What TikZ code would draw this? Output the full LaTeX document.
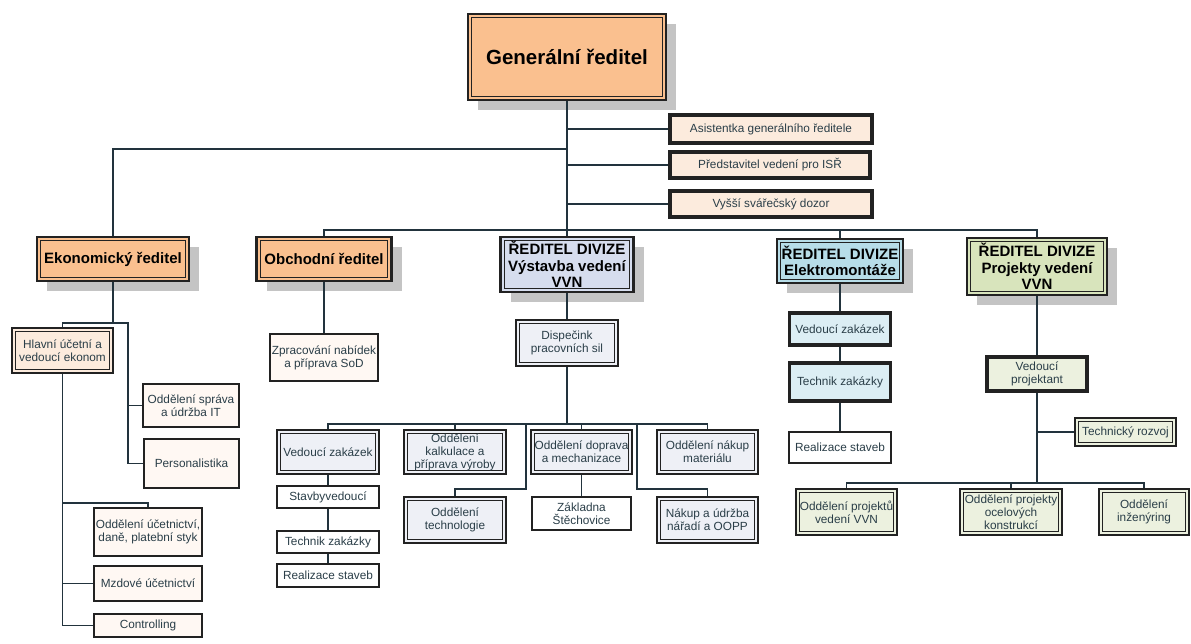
\documentclass[tikz,border=0pt]{standalone}
\usepackage{fontspec}
\setmainfont{Liberation Sans}
\usetikzlibrary{shadows}
\definecolor{lc}{HTML}{22333D}
\definecolor{bd}{HTML}{222222}
\definecolor{txt}{HTML}{2A3E48}
\definecolor{orng}{HTML}{FAC08F}
\definecolor{peach}{HTML}{FCEBDD}
\definecolor{peachw}{HTML}{FFF8F3}
\definecolor{vvnf}{HTML}{D6DDEE}
\definecolor{vvns}{HTML}{EEF0F6}
\definecolor{elf}{HTML}{B7DDE8}
\definecolor{els}{HTML}{DCEEF4}
\definecolor{prf}{HTML}{D8E4BC}
\definecolor{prs}{HTML}{ECF1DF}
\definecolor{shc}{HTML}{C4C4C4}
\tikzset{
  box/.style={rectangle, inner sep=1pt, align=center, text=txt,
    font=\fontsize{11.8}{13}\selectfont},
  thinb/.style={box, draw=bd, line width=1.5pt, fill=#1},
  thickb/.style={box, draw=bd, line width=3.2pt, fill=#1},
  dblb/.style={box, draw=bd, line width=2.8pt, fill=#1,
    path picture={\draw[bd, line width=0.9pt]
      ([shift={(3.6pt,-3.6pt)}]path picture bounding box.north west) rectangle
      ([shift={(-3.6pt,3.6pt)}]path picture bounding box.south east);}},
  title/.style={text=black, font=\bfseries\fontsize{15}{16.3}\selectfont},
  shad/.style={drop shadow={shadow xshift=10pt, shadow yshift=-10pt, fill=shc, opacity=1}},
  conn/.style={draw=lc, line width=1.7pt},
}
\begin{document}
\begin{tikzpicture}[x=1pt,y=-1pt]
\useasboundingbox (0,0) rectangle (1191,644);
% ---- level 0 and staff
\node[dblb=orng, shad, minimum width=198pt, minimum height=86pt, text=black,
  font=\bfseries\fontsize{20.5}{24}\selectfont] (gr) at (567,57) {Generální ředitel};
\node[thickb=peach, minimum width=202pt, minimum height=28pt] (asis) at (771,129) {Asistentka generálního ředitele};
\node[thickb=peach, minimum width=200pt, minimum height=26pt] (pred) at (770,165) {Představitel vedení pro ISŘ};
\node[thickb=peach, minimum width=202pt, minimum height=26pt] (vys) at (771,204) {Vyšší svářečský dozor};
% ---- level 1
\node[dblb=orng, shad, title, minimum width=152pt, minimum height=44pt] (eko) at (113,259) {Ekonomický ředitel};
\node[dblb=orng, shad, title, minimum width=135pt, minimum height=44pt] (obch) at (324,259) {Obchodní ředitel};
\node[dblb=vvnf, shad, title, minimum width=133pt, minimum height=55pt] (vvn) at (567,264.5) {ŘEDITEL DIVIZE\\Výstavba vedení\\VVN};
\node[dblb=elf, shad, title, minimum width=126pt, minimum height=44pt] (elek) at (840,261) {ŘEDITEL DIVIZE\\Elektromontáže};
\node[dblb=prf, shad, title, minimum width=140pt, minimum height=57pt] (proj) at (1037,266.5) {ŘEDITEL DIVIZE\\Projekty vedení\\VVN};
% ---- economic
\node[dblb=peach, minimum width=101pt, minimum height=45pt] (hlav) at (62.5,350.5) {Hlavní účetní a\\vedoucí ekonom};
\node[thinb=peachw, minimum width=96pt, minimum height=43pt] (sprava) at (191,405.5) {Oddělení správa\\a údržba IT};
\node[thinb=peachw, minimum width=95pt, minimum height=49pt] (pers) at (191.5,463.5) {Personalistika};
\node[thinb=peachw, minimum width=108pt, minimum height=48pt] (ucet) at (148,532) {Oddělení účetnictví,\\daně, platební styk};
\node[thinb=peachw, minimum width=108pt, minimum height=35pt] (mzd) at (148,583.5) {Mzdové účetnictví};
\node[thinb=peachw, minimum width=108pt, minimum height=23pt] (contr) at (148,625.5) {Controlling};
% ---- commercial
\node[thinb=peachw, minimum width=108pt, minimum height=47pt] (zprac) at (324,357.5) {Zpracování nabídek\\a příprava SoD};
% ---- VVN division
\node[dblb=vvns, minimum width=102pt, minimum height=46pt] (disp) at (567,343) {Dispečink\\pracovních sil};
\node[dblb=vvns, minimum width=102pt, minimum height=44pt] (vz) at (328,452) {Vedoucí zakázek};
\node[thinb=white, minimum width=102pt, minimum height=22pt] (stav) at (328,497) {Stavbyvedoucí};
\node[thinb=white, minimum width=102pt, minimum height=22pt] (tz) at (328,542) {Technik zakázky};
\node[thinb=white, minimum width=102pt, minimum height=23pt] (rs) at (328,575.5) {Realizace staveb};
\node[dblb=vvns, minimum width=102pt, minimum height=44pt] (kalk) at (455,452) {Oddělení\\kalkulace a\\příprava výroby};
\node[dblb=vvns, minimum width=101pt, minimum height=44pt] (dopr) at (581.5,452) {Oddělení doprava\\a mechanizace};
\node[dblb=vvns, minimum width=101pt, minimum height=44pt] (nm) at (707.5,452) {Oddělení nákup\\materiálu};
\node[dblb=vvns, minimum width=102pt, minimum height=46pt] (tech) at (455,520) {Oddělení\\technologie};
\node[thinb=white, minimum width=99pt, minimum height=33pt] (zakl) at (581.5,513.5) {Základna\\Štěchovice};
\node[dblb=vvns, minimum width=101pt, minimum height=46pt] (nu) at (707.5,520) {Nákup a údržba\\nářadí a OOPP};
% ---- Elektro division
\node[thickb=els, minimum width=101pt, minimum height=32pt] (evz) at (840,329) {Vedoucí zakázek};
\node[thickb=els, minimum width=101pt, minimum height=38pt] (etz) at (840,382) {Technik zakázky};
\node[thinb=white, minimum width=102pt, minimum height=31pt] (ers) at (840,447.5) {Realizace staveb};
% ---- Projekty division
\node[thickb=prs, minimum width=100pt, minimum height=34pt] (vp) at (1037,374) {Vedoucí\\projektant};
\node[dblb=prs, minimum width=101pt, minimum height=28pt] (tr) at (1125.5,432) {Technický rozvoj};
\node[dblb=prs, minimum width=101pt, minimum height=46pt] (opv) at (846.5,512) {Oddělení projektů\\vedení VVN};
\node[dblb=prs, minimum width=102pt, minimum height=46pt] (ooc) at (1011,512) {Oddělení projekty\\ocelových\\konstrukcí};
\node[dblb=prs, minimum width=90pt, minimum height=46pt] (ing) at (1144,512) {Oddělení\\inženýring};
% ---- helper coordinates
\coordinate (lb) at (567,149);
\coordinate (b1) at (567,230);
\coordinate (e1) at (113,323);
\coordinate (e2) at (128,323);
\coordinate (e3) at (62.5,503);
\coordinate (b2) at (567,424);
\coordinate (b3) at (526,489);
\coordinate (b4) at (637,489);
\coordinate (b5) at (1037,483);
% ---- connectors
\draw[conn] (gr.south) -- (vvn.north);
\draw[conn] (gr.south |- asis.west) -- (asis.west);
\draw[conn] (gr.south |- pred.west) -- (pred.west);
\draw[conn] (gr.south |- vys.west) -- (vys.west);
\draw[conn] (lb) -| (eko.north);
\draw[conn] (obch.north) -- (obch.north |- b1) -- (proj.north |- b1) -- (proj.north);
\draw[conn] (elek.north) -- (elek.north |- b1);
% economic
\draw[conn] (eko.south) -- (e1);
\draw[conn] (hlav.north) -- (hlav.north |- e1) -- (e2) -- (e2 |- pers.west) -- (pers.west);
\draw[conn] (e2 |- sprava.west) -- (sprava.west);
\draw[conn] (hlav.south) -- (hlav.south |- contr.west) -- (contr.west);
\draw[conn] (hlav.south |- mzd.west) -- (mzd.west);
\draw[conn] (e3) -| (ucet.north);
% commercial
\draw[conn] (obch.south) -- (zprac.north);
% VVN
\draw[conn] (vvn.south) -- (disp.north);
\draw[conn] (disp.south) -- (b2);
\draw[conn] (vz.north) -- (vz.north |- b2) -- (nm.north |- b2) -- (nm.north);
\draw[conn] (kalk.north) -- (kalk.north |- b2);
\draw[conn] (dopr.north) -- (dopr.north |- b2);
\draw[conn] (b3 |- b2) -- (b3) -| (tech.north);
\draw[conn] (b4 |- b2) -- (b4) -| (nu.north);
\draw[conn] (vz.south) -- (stav.north);
\draw[conn] (stav.south) -- (tz.north);
\draw[conn] (tz.south) -- (rs.north);
\draw[conn] (dopr.south) -- (zakl.north);
% Elektro
\draw[conn] (elek.south) -- (evz.north);
\draw[conn] (evz.south) -- (etz.north);
\draw[conn] (etz.south) -- (ers.north);
% Projekty
\draw[conn] (proj.south) -- (vp.north);
\draw[conn] (vp.south) -- (b5);
\draw[conn] (vp.south |- tr.west) -- (tr.west);
\draw[conn] (opv.north) -- (opv.north |- b5) -- (ing.north |- b5) -- (ing.north);
\draw[conn] (ooc.north) -- (ooc.north |- b5);
\end{tikzpicture}
\end{document}
